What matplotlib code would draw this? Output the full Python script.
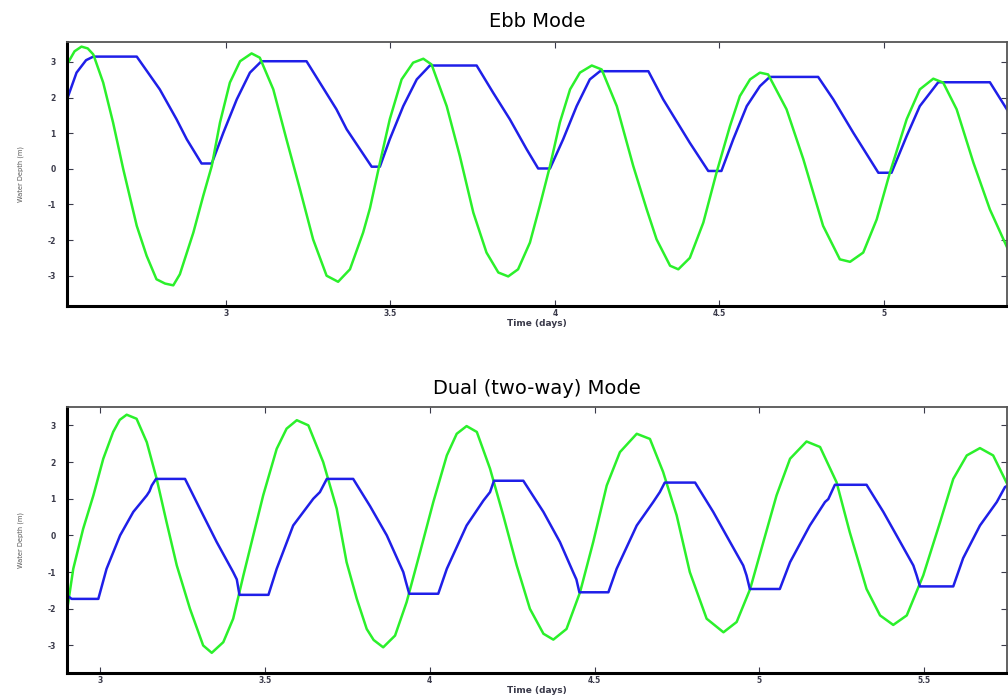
import numpy as np
import matplotlib
matplotlib.use('Agg')
import matplotlib.pyplot as plt

# ---- Ebb mode (top panel) ----
ebb_green_t = [2.517, 2.540, 2.561, 2.580, 2.597, 2.627, 2.657, 2.688, 2.729, 2.759, 2.789, 2.815,
               2.840, 2.860, 2.901, 2.931, 2.957, 2.982, 3.012, 3.043, 3.078, 3.103, 3.144, 3.184,
               3.225, 3.265, 3.306, 3.341, 3.377, 3.417, 3.438, 3.468, 3.498, 3.534, 3.569, 3.600,
               3.625, 3.671, 3.711, 3.752, 3.792, 3.828, 3.858, 3.888, 3.924, 3.954, 3.985, 4.015,
               4.046, 4.076, 4.112, 4.142, 4.188, 4.238, 4.279, 4.309, 4.350, 4.375, 4.410, 4.451,
               4.491, 4.532, 4.562, 4.593, 4.623, 4.648, 4.704, 4.755, 4.815, 4.866, 4.897, 4.937,
               4.978, 5.018, 5.069, 5.109, 5.150, 5.180, 5.221, 5.272, 5.322, 5.377]
ebb_green_d = [2.93, 3.30, 3.43, 3.38, 3.21, 2.42, 1.30, -0.01, -1.60, -2.44, -3.10, -3.22,
               -3.27, -2.96, -1.79, -0.76, 0.08, 1.30, 2.42, 3.02, 3.24, 3.12, 2.23, 0.83,
               -0.57, -1.98, -3.00, -3.17, -2.82, -1.79, -1.10, 0.17, 1.39, 2.51, 2.98, 3.09,
               2.93, 1.76, 0.36, -1.23, -2.35, -2.91, -3.02, -2.82, -2.07, -1.04, 0.08, 1.30,
               2.23, 2.70, 2.90, 2.79, 1.76, 0.08, -1.14, -1.98, -2.72, -2.82, -2.50, -1.51,
               -0.11, 1.20, 2.04, 2.51, 2.70, 2.65, 1.67, 0.27, -1.60, -2.54, -2.61, -2.35,
               -1.42, -0.11, 1.39, 2.23, 2.53, 2.42, 1.67, 0.17, -1.14, -2.26]

ebb_blue_t = [2.517, 2.546, 2.575, 2.597, 2.729, 2.799, 2.850, 2.881, 2.926, 2.957, 2.992, 3.033,
              3.073, 3.108, 3.245, 3.336, 3.367, 3.443, 3.468, 3.498, 3.539, 3.580, 3.620, 3.762,
              3.812, 3.863, 3.914, 3.949, 3.985, 4.025, 4.066, 4.106, 4.137, 4.284, 4.329, 4.410,
              4.466, 4.506, 4.542, 4.583, 4.623, 4.653, 4.800, 4.846, 4.907, 4.983, 5.023, 5.069,
              5.109, 5.165, 5.322, 5.377]
ebb_blue_d = [1.95, 2.70, 3.05, 3.15, 3.15, 2.23, 1.39, 0.83, 0.15, 0.15, 1.01, 1.95,
              2.70, 3.02, 3.02, 1.67, 1.11, 0.06, 0.06, 0.83, 1.76, 2.51, 2.90, 2.90,
              2.14, 1.39, 0.55, 0.01, 0.01, 0.83, 1.76, 2.51, 2.74, 2.74, 1.95, 0.73,
              -0.06, -0.06, 0.83, 1.76, 2.32, 2.58, 2.58, 1.95, 1.01, -0.11, -0.11, 0.92,
              1.76, 2.43, 2.43, 1.62]

# ---- Dual (two-way) mode (bottom panel) ----
dual_green_t = [2.897, 2.919, 2.949, 2.980, 3.010, 3.040, 3.060, 3.081, 3.111, 3.142, 3.172, 3.202,
                3.233, 3.273, 3.313, 3.339, 3.374, 3.404, 3.435, 3.465, 3.495, 3.536, 3.566, 3.597,
                3.632, 3.677, 3.718, 3.748, 3.779, 3.809, 3.830, 3.859, 3.895, 3.930, 3.971, 4.011,
                4.052, 4.082, 4.112, 4.143, 4.183, 4.223, 4.264, 4.304, 4.345, 4.375, 4.415, 4.456,
                4.496, 4.537, 4.577, 4.628, 4.668, 4.708, 4.749, 4.789, 4.840, 4.891, 4.931, 4.972,
                5.012, 5.052, 5.093, 5.143, 5.184, 5.234, 5.274, 5.325, 5.366, 5.406, 5.447, 5.497,
                5.548, 5.588, 5.629, 5.669, 5.709, 5.754]
dual_green_d = [-2.23, -0.91, 0.18, 1.09, 2.09, 2.82, 3.15, 3.29, 3.18, 2.54, 1.54, 0.36,
                -0.82, -2.00, -3.00, -3.20, -2.91, -2.27, -1.09, 0.00, 1.09, 2.36, 2.91, 3.14,
                3.00, 2.00, 0.73, -0.73, -1.73, -2.55, -2.85, -3.05, -2.73, -1.82, -0.45, 0.91,
                2.18, 2.77, 2.98, 2.82, 1.82, 0.55, -0.82, -2.00, -2.68, -2.84, -2.55, -1.55,
                -0.18, 1.36, 2.27, 2.77, 2.63, 1.73, 0.55, -1.00, -2.27, -2.64, -2.36, -1.46,
                -0.18, 1.09, 2.09, 2.56, 2.41, 1.45, 0.09, -1.46, -2.18, -2.44, -2.18, -1.09,
                0.36, 1.54, 2.18, 2.38, 2.18, 1.36]

dual_blue_t = [2.894, 2.901, 2.914, 2.995, 3.020, 3.061, 3.101, 3.142, 3.150, 3.157, 3.170, 3.258,
               3.303, 3.354, 3.404, 3.415, 3.423, 3.511, 3.536, 3.586, 3.647, 3.667, 3.688, 3.768,
               3.819, 3.870, 3.920, 3.928, 3.938, 4.026, 4.052, 4.112, 4.163, 4.183, 4.195, 4.284,
               4.345, 4.395, 4.435, 4.445, 4.454, 4.542, 4.567, 4.628, 4.678, 4.698, 4.713, 4.805,
               4.860, 4.911, 4.951, 4.961, 4.971, 5.062, 5.093, 5.153, 5.199, 5.209, 5.229, 5.325,
               5.376, 5.416, 5.467, 5.477, 5.487, 5.588, 5.618, 5.669, 5.720, 5.745, 5.754]
dual_blue_d = [-1.18, -1.64, -1.73, -1.73, -0.91, 0.00, 0.64, 1.09, 1.20, 1.36, 1.54, 1.54,
               0.73, -0.18, -1.00, -1.20, -1.62, -1.62, -0.91, 0.27, 1.00, 1.18, 1.54, 1.54,
               0.80, 0.00, -1.00, -1.27, -1.59, -1.59, -0.91, 0.27, 0.95, 1.18, 1.49, 1.49,
               0.64, -0.18, -1.00, -1.20, -1.55, -1.55, -0.91, 0.27, 0.91, 1.18, 1.44, 1.44,
               0.64, -0.18, -0.82, -1.09, -1.46, -1.46, -0.73, 0.27, 0.91, 0.99, 1.38, 1.38,
               0.64, 0.00, -0.82, -1.09, -1.39, -1.39, -0.62, 0.27, 0.91, 1.32, 1.36]

ebb_xticks = [3, 3.5, 4, 4.5, 5]
ebb_xlabels = ['3', '3.5', '4', '4.5', '5']
dual_xticks = [3, 3.5, 4, 4.5, 5, 5.5]
dual_xlabels = ['3', '3.5', '4', '4.5', '5', '5.5']
yticks = [-3, -2, -1, 0, 1, 2, 3]

BLUE = '#1f1fe8'
GREEN = '#2bf02b'
TICK_COLOR = '#3a3a4a'

fig = plt.figure(figsize=(10.08, 6.96), dpi=100)


def style_axes(ax, xlim, ylim, xticks, xlabels, title, title_pad):
    ax.set_xlim(*xlim)
    ax.set_ylim(*ylim)
    ax.set_xticks(xticks)
    ax.set_xticklabels(xlabels)
    ax.set_yticks(yticks)
    ax.set_yticklabels([str(v) for v in yticks])
    ax.tick_params(direction='in', top=True, right=True, length=4, width=0.8,
                   labelsize=5.5, colors=TICK_COLOR, labelcolor=TICK_COLOR)
    ax.tick_params(axis='x', pad=2)
    ax.tick_params(axis='y', pad=8)
    for lab in ax.get_xticklabels() + ax.get_yticklabels():
        lab.set_fontweight('bold')
    for side in ['left', 'bottom']:
        ax.spines[side].set_linewidth(2.2)
        ax.spines[side].set_color('black')
    for side in ['top', 'right']:
        ax.spines[side].set_linewidth(1.3)
        ax.spines[side].set_color('#555555')
    ax.set_xlabel('Time (days)', fontsize=6.5, fontweight='bold', color=TICK_COLOR, labelpad=1)
    ax.set_ylabel('Water Depth (m)', fontsize=4.8, color='#555555', labelpad=17)
    ax.set_title(title, fontsize=14, pad=title_pad)


ax1 = fig.add_axes([67 / 1008, 1 - 306 / 696, 940 / 1008, 264 / 696])
ax1.plot(ebb_blue_t, ebb_blue_d, color=BLUE, linewidth=1.8)
ax1.plot(ebb_green_t, ebb_green_d, color=GREEN, linewidth=1.8)
style_axes(ax1, (2.517, 5.374), (-3.85, 3.56), ebb_xticks, ebb_xlabels, 'Ebb Mode', 11)

ax2 = fig.add_axes([67 / 1008, 1 - 673 / 696, 940 / 1008, 266 / 696])
ax2.plot(dual_green_t, dual_green_d, color=GREEN, linewidth=1.8)
ax2.plot(dual_blue_t, dual_blue_d, color=BLUE, linewidth=1.8)
style_axes(ax2, (2.900, 5.751), (-3.75, 3.5), dual_xticks, dual_xlabels, 'Dual (two-way) Mode', 9)

fig.savefig('out.png', dpi=100)
